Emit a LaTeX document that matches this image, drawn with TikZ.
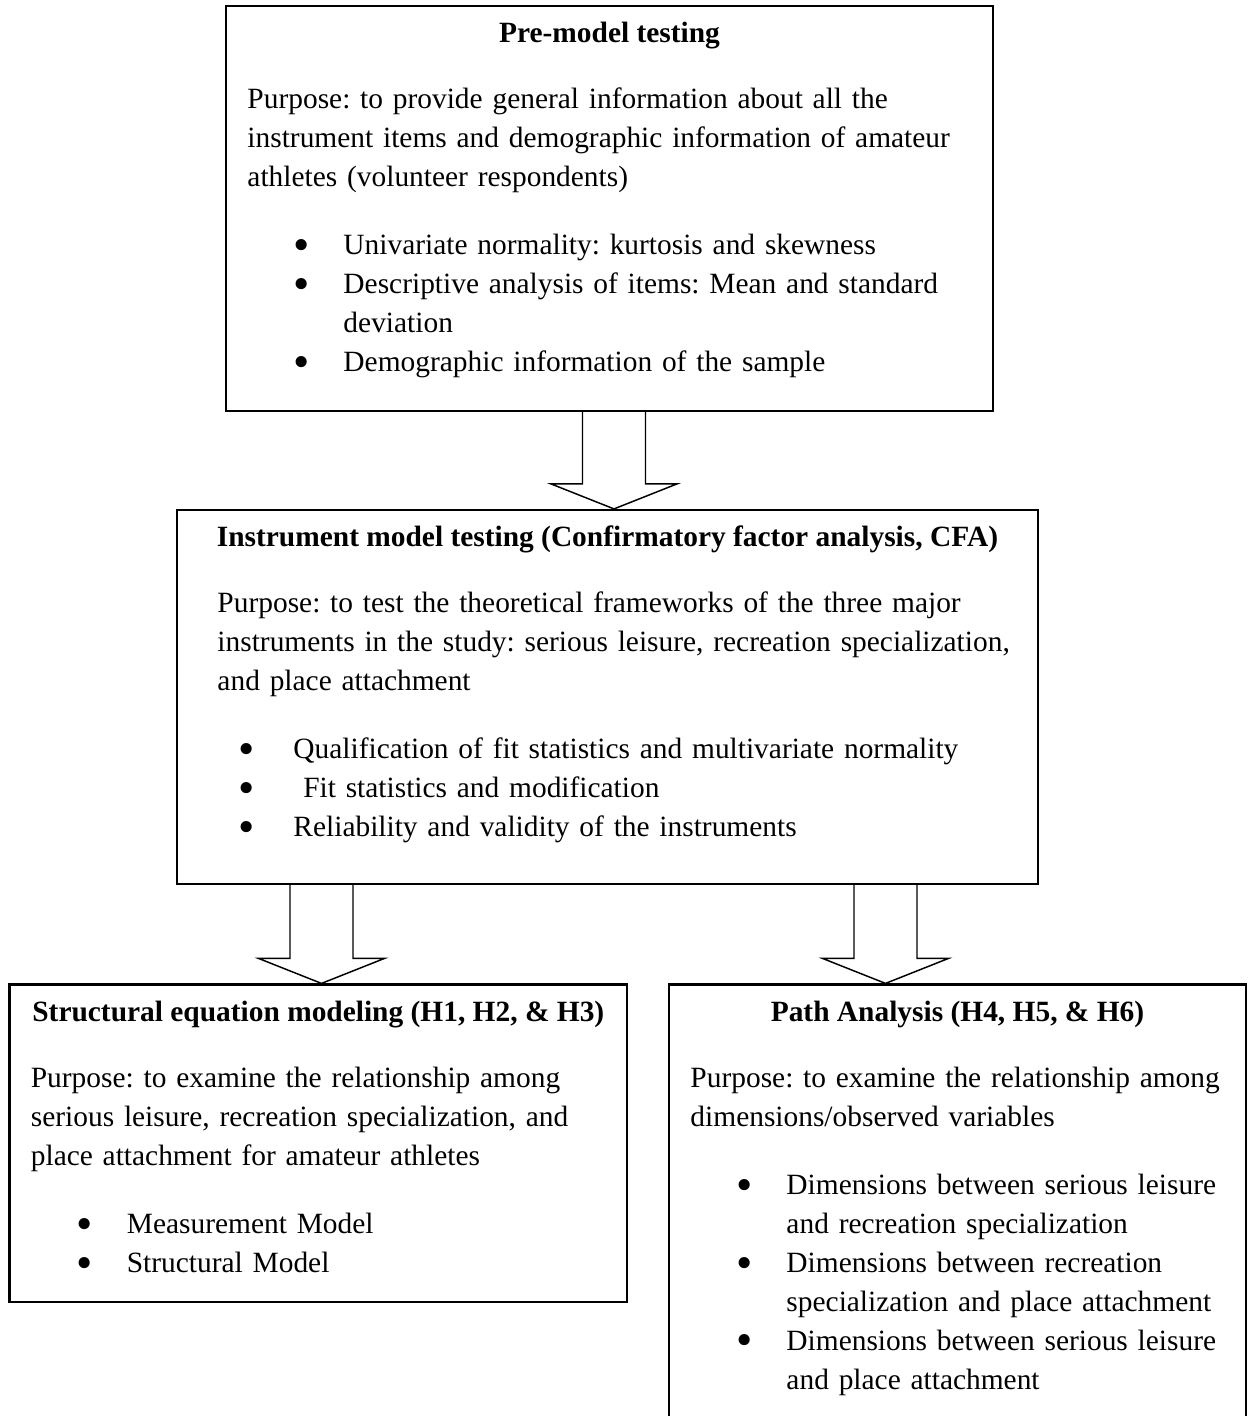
\documentclass[tikz,border=0pt]{standalone}
\usepackage{fontspec}
\setmainfont{Liberation Serif}
\usetikzlibrary{fit,calc}

% lengths given in drawing units (1 unit = 0.408pt)
\newcommand\px[1]{\dimexpr #1pt*51/125\relax}
\newcommand\bulletmark{\raisebox{-2.3pt}{\fontsize{19}{19}\selectfont\textbullet}}
\newcommand\bodysetup{\lineskip=0pt\relax\hyphenpenalty=10000\relax\frenchspacing}
% bulleted item: #1 bullet centre offset, #2 text offset, #3 text (lines split with \\)
\newcommand\bitem[3]{\noindent\strut\hspace*{\px{#1}}\makebox[0pt]{\bulletmark}%
  \hspace*{\dimexpr\px{#2}-\px{#1}\relax}%
  \parbox[t]{\dimexpr\linewidth-\px{#2}\relax}{#3\strut}\par}
% hollow block arrow from #1 (top of shaft) down to tip #2
\newcommand\bigarrow[2]{%
  \draw[barrow] ($(#1)+(-31.5,0)$) -- ($(#2)+(-31.5,-25)$) -- ($(#2)+(-63,-25)$)
    -- (#2) -- ($(#2)+(63,-25)$) -- ($(#2)+(31.5,-25)$) -- ($(#1)+(31.5,0)$);}

\tikzset{
  panel/.style={draw, line width=0.9pt, inner sep=0pt},
  ttl/.style={anchor=base, inner sep=0pt, font={\fontsize{12}{15.87}\selectfont\bfseries}},
  body/.style={anchor=base west, inner sep=0pt, text width=330pt,
    font={\fontsize{12}{15.87}\selectfont}},
  barrow/.style={draw, line width=0.6pt, line join=miter}
}

\begin{document}
\begin{tikzpicture}[x=0.408pt, y=-0.408pt]
\useasboundingbox (0,0) rectangle (1251,1416);

% frames
\node[panel, fit={(226,6) (993,411)}] (pre) {};
\node[panel, fit={(177,510) (1038,884)}] (ins) {};
\node[panel, fit={(9.6,984.5) (627,1302)}] (sem) {};
\node[panel, fit={(669,984.5) (1246,1427)}] (pa) {};

% pre-model testing
\node[ttl] (preT) at ($(pre.north)+(0,38)$) {Pre-model testing};
\node[body] (preP) at (247,108.5) {\bodysetup
  Purpose: to provide general information about all the\\
  instrument items and demographic information of amateur\\
  athletes (volunteer respondents)};
\node[body] (preB) at (247,254.8) {\bodysetup
  \bitem{54}{96}{Univariate normality: kurtosis and skewness}
  \bitem{54}{96}{Descriptive analysis of items: Mean and standard\\deviation}
  \bitem{54}{96}{Demographic information of the sample}};

% instrument model testing
\node[ttl] (insT) at ($(ins.north)+(0,38)$) {Instrument model testing (Confirmatory factor analysis, CFA)};
\node[body, text width=345pt] (insP) at (217,612.5) {\bodysetup
  Purpose: to test the theoretical frameworks of the three major\\
  instruments in the study: serious leisure, recreation specialization,\\
  and place attachment};
\node[body, text width=345pt] (insB) at (217,758.8) {\bodysetup
  \bitem{29}{76}{Qualification of fit statistics and multivariate normality}
  \bitem{29}{76}{\ Fit statistics and modification}
  \bitem{29}{76}{Reliability and validity of the instruments}};

% structural equation modeling
\node[ttl] (semT) at ($(sem.north)+(0,38)$) {Structural equation modeling (H1, H2, \& H3)};
\node[body] (semP) at (30.4,1087.2) {\bodysetup
  Purpose: to examine the relationship among\\
  serious leisure, recreation specialization, and\\
  place attachment for amateur athletes};
\node[body] (semB) at (30.4,1233.5) {\bodysetup
  \bitem{54}{96}{Measurement Model}
  \bitem{54}{96}{Structural Model}};

% path analysis
\node[ttl] (paT) at ($(pa.north)+(0,38)$) {Path Analysis (H4, H5, \& H6)};
\node[body] (paP) at (690,1087.2) {\bodysetup
  Purpose: to examine the relationship among\\
  dimensions/observed variables};
\node[body] (paB) at (690,1194.6) {\bodysetup
  \bitem{54}{96}{Dimensions between serious leisure\\and recreation specialization}
  \bitem{54}{96}{Dimensions between recreation\\specialization and place attachment}
  \bitem{54}{96}{Dimensions between serious leisure\\and place attachment}};

% block arrows
\path (pre.south) ++(4.5,0) coordinate (a1s);
\path (a1s |- ins.north) coordinate (a1e);
\path (ins.south) ++(-286,0) coordinate (a2s);
\path (a2s |- sem.north) coordinate (a2e);
\path (ins.south) ++(278,0) coordinate (a3s);
\path (a3s |- pa.north) coordinate (a3e);
\bigarrow{a1s}{a1e}
\bigarrow{a2s}{a2e}
\bigarrow{a3s}{a3e}
\end{tikzpicture}
\end{document}
